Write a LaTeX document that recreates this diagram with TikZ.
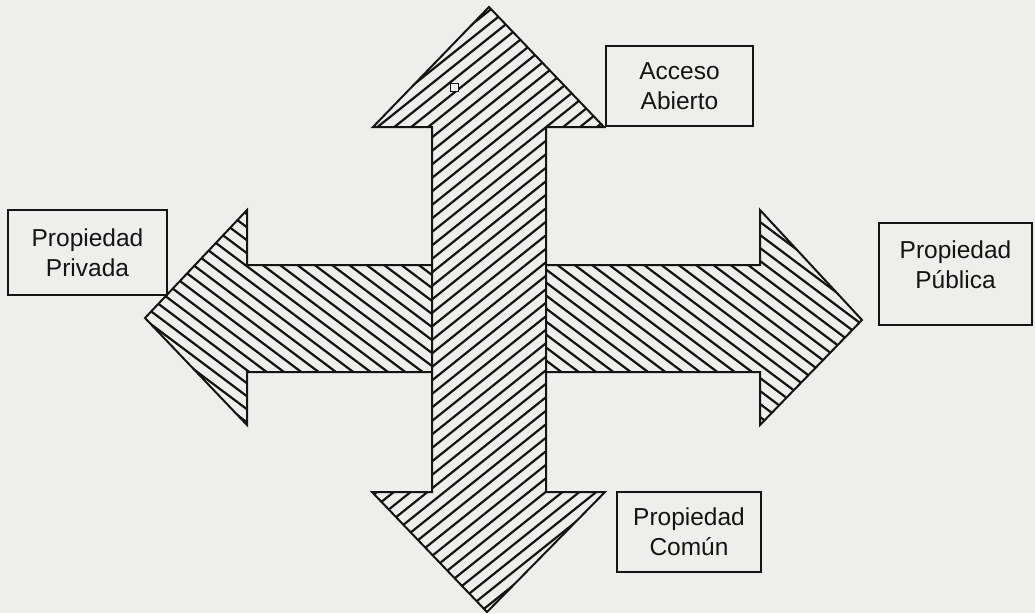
\documentclass[tikz,border=0pt]{standalone}
\usepackage{fontspec}
\setmainfont{Liberation Sans}
\definecolor{paper}{RGB}{238,238,235}
\definecolor{ink}{RGB}{20,20,20}
\begin{document}
\begin{tikzpicture}[x=1pt,y=-1pt,
  outline/.style={draw=ink,line width=2pt,line join=miter},
  hatch/.style={draw=ink,line width=2.2pt},
  box/.style={draw=ink,line width=1.5pt,fill=paper,inner sep=0pt,align=center,
    font=\fontsize{24.5}{30}\selectfont,text=ink}]
\fill[paper] (0,0) rectangle (1035,613);
\useasboundingbox (0,0) rectangle (1035,613);
% shapes
\def\vert{(489,7) -- (604,127) -- (546,127) -- (546,492) -- (605,492) -- (487,612) -- (372,492) -- (432,492) -- (432,127) -- (373,127) -- cycle}
\def\leftarr{(432,265) -- (247,265) -- (247,210) -- (145,318) -- (247,425) -- (247,372) -- (432,372)}
\def\rightarr{(546,265) -- (760,265) -- (760,210) -- (862,320) -- (760,425) -- (760,372) -- (546,372)}
% hatching horizontal arrows
\begin{scope}
\clip \leftarr -- cycle;
\foreach \k in {-32,...,34} \draw[hatch] (100,\k*13) -- ++(800,600);
\end{scope}
\begin{scope}
\clip \rightarr -- cycle;
\foreach \k in {-32,...,34} \draw[hatch] (100,\k*13) -- ++(800,600);
\end{scope}
% hatching vertical arrow
\begin{scope}
\clip \vert;
\foreach \k in {-8,...,70} \draw[hatch] (300,\k*13.5) -- ++(400,-320);
\end{scope}
% outlines
\draw[outline] \leftarr;
\draw[outline] \rightarr;
\draw[outline] \vert;
\draw[ink,line width=1pt,fill=paper] (450,83) rectangle (458,91);
% labels
\node[box,minimum width=147pt,minimum height=80pt] (acc) at (679.5,86) {Acceso\\Abierto};
\node[box,minimum width=159pt,minimum height=85pt] (priv) at (87.5,252.5) {Propiedad\\Privada};
\node[box,minimum width=153pt,minimum height=102pt] (pub) at (955.5,274) {};
\node[font=\fontsize{24.5}{30}\selectfont,text=ink,align=center,inner sep=0pt] (pubt) at (955.5,265) {Propiedad\\Pública};
\node[box,minimum width=144pt,minimum height=80pt] (com) at (689,532) {Propiedad\\Común};
\end{tikzpicture}
\end{document}
